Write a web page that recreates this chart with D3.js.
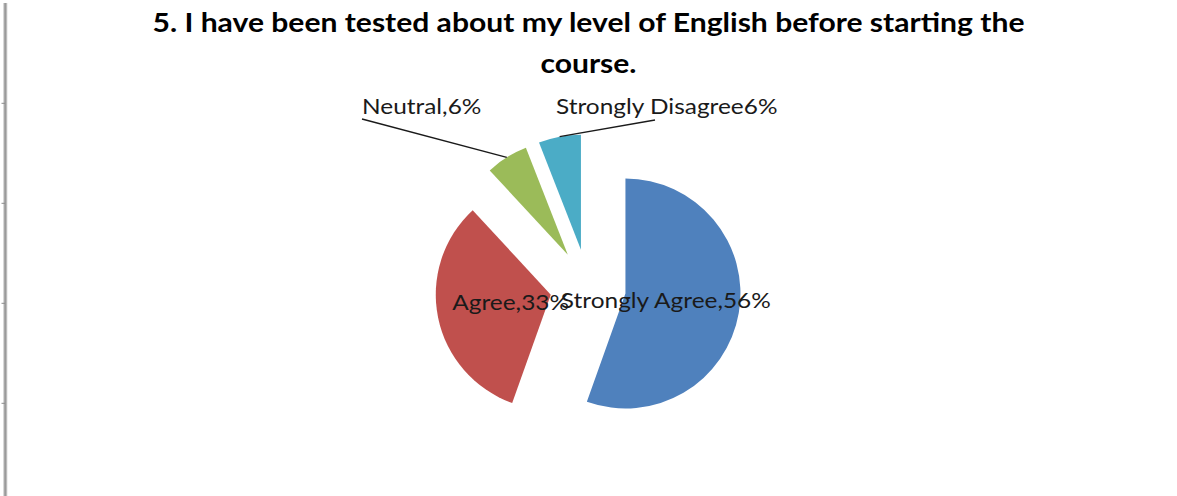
<!DOCTYPE html>
<html>
<head>
<meta charset="utf-8">
<script src="https://cdn.jsdelivr.net/npm/d3@7"></script>
<style>
  html, body { margin: 0; padding: 0; background: #fff; }
  svg { display: block; }
</style>
</head>
<body>
<svg id="chart" width="1177" height="496"></svg>
<script>
// ---- chart data ----
const titleLines = [
  "5. I have been tested about my level of English before starting the",
  "course."
];
const categories = ["Strongly Agree", "Agree", "Neutral", "Strongly Disagree"];
const percents = [56, 33, 6, 6];
const labelSeparators = [",", ",", ",", ""];
const sliceColors = ["#4F81BD", "#C0504D", "#9BBB59", "#4BACC6"];
const edgeTicks = [1, 2, 3, 4];

// ---- layout ----
const W = 1177, H = 496;
const cx = 588, cy = 287;        // pie centre before explosion
const R = 115;                   // slice radius
const explode = 38;              // distance each slice is pulled out
const insideLabelR = 41;         // label distance from a slice's apex
const FONT = "Lato, 'Liberation Sans', sans-serif";
const titleSize = 26.5, titleWidth = 872, titleX = 588.5;
const labelSize = 21, refLabelWidth = 210;
// outside labels: text start relative to pie centre, leader start relative to text start
const outsideLayout = {
  "Neutral": { dx: -226, dy: -173, lx: 0, ly: 5 },
  "Strongly Disagree": { dx: -32, dy: -173, lx: 99, ly: 6 }
};

const svg = d3.select("#chart");
svg.append("rect").attr("width", W).attr("height", H).attr("fill", "#fff");

// neighbouring axis edge on the far left
const edgeY = d3.scaleLinear().domain([0, 5]).range([3.3, 503.3]);
const edge = svg.append("g");
edge.append("line")
  .attr("x1", 5.3).attr("x2", 5.3).attr("y1", 3).attr("y2", H)
  .attr("stroke", "#c8c8c8").attr("stroke-width", 4);
edge.append("line")
  .attr("x1", 5.3).attr("x2", 5.3).attr("y1", 3).attr("y2", H)
  .attr("stroke", "#9a9a9a").attr("stroke-width", 2);
edge.selectAll("line.tick").data(edgeTicks).join("line")
  .attr("class", "tick")
  .attr("x1", 1.5).attr("x2", 5).attr("y1", d => edgeY(d)).attr("y2", d => edgeY(d))
  .attr("stroke", "#8a8a8a").attr("stroke-width", 1);

// ---- title ----
const title = svg.append("g");
const titleTexts = title.selectAll("text").data(titleLines).join("text")
  .attr("x", titleX)
  .attr("y", (d, i) => 32 + i * 41)
  .attr("text-anchor", "middle")
  .attr("font-family", FONT)
  .attr("font-weight", 700)
  .attr("font-size", titleSize)
  .attr("fill", "#000")
  .text(d => d);
const titleStretch = titleWidth / titleTexts.nodes()[0].getComputedTextLength();
titleTexts.each(function () {
  const w = this.getComputedTextLength();
  d3.select(this).attr("textLength", w * titleStretch).attr("lengthAdjust", "spacingAndGlyphs");
});

// ---- pie ----
const rows = categories.map((c, i) => ({
  category: c,
  value: percents[i],
  color: sliceColors[i],
  label: c + labelSeparators[i] + percents[i] + "%"
}));
const pie = d3.pie().sort(null).value(d => d.value);
const arcs = pie(rows);
const arc = d3.arc().innerRadius(0).outerRadius(R);
const along = (d, dist) => {
  const m = (d.startAngle + d.endAngle) / 2;
  return [Math.sin(m) * dist, -Math.cos(m) * dist];
};

const plot = svg.append("g").attr("transform", `translate(${cx},${cy})`);
plot.selectAll("path.slice").data(arcs).join("path")
  .attr("class", "slice")
  .attr("d", arc)
  .attr("fill", d => d.data.color)
  .attr("transform", d => `translate(${along(d, explode)})`);

// ---- labels ----
const labelG = plot.append("g")
  .attr("font-family", FONT)
  .attr("font-size", labelSize)
  .attr("fill", "#1a1a1a");

// measure a reference label to get the horizontal stretch of label text
const probe = labelG.append("text").text(rows[0].label);
const labelStretch = refLabelWidth / probe.node().getComputedTextLength();
probe.remove();

const inside = arcs.filter(d => !outsideLayout[d.data.category]);
const outside = arcs.filter(d => outsideLayout[d.data.category]);

// leader lines from outside labels to the middle of each slice's rim
plot.selectAll("line.leader").data(outside).join("line")
  .attr("class", "leader")
  .attr("x1", d => { const o = outsideLayout[d.data.category]; return o.dx + o.lx; })
  .attr("y1", d => { const o = outsideLayout[d.data.category]; return o.dy + o.ly; })
  .attr("x2", d => along(d, explode + R)[0])
  .attr("y2", d => along(d, explode + R)[1])
  .attr("stroke", "#1a1a1a").attr("stroke-width", 1.4);

labelG.selectAll("text.inside").data(inside).join("text")
  .attr("class", "inside")
  .attr("x", d => along(d, explode + insideLabelR)[0])
  .attr("y", d => along(d, explode + insideLabelR)[1])
  .attr("dy", "0.36em")
  .attr("text-anchor", "middle")
  .text(d => d.data.label);

labelG.selectAll("text.outside").data(outside).join("text")
  .attr("class", "outside")
  .attr("x", d => outsideLayout[d.data.category].dx)
  .attr("y", d => outsideLayout[d.data.category].dy)
  .text(d => d.data.label);

labelG.selectAll("text").each(function () {
  const w = this.getComputedTextLength();
  d3.select(this).attr("textLength", w * labelStretch).attr("lengthAdjust", "spacingAndGlyphs");
});
</script>
</body>
</html>
